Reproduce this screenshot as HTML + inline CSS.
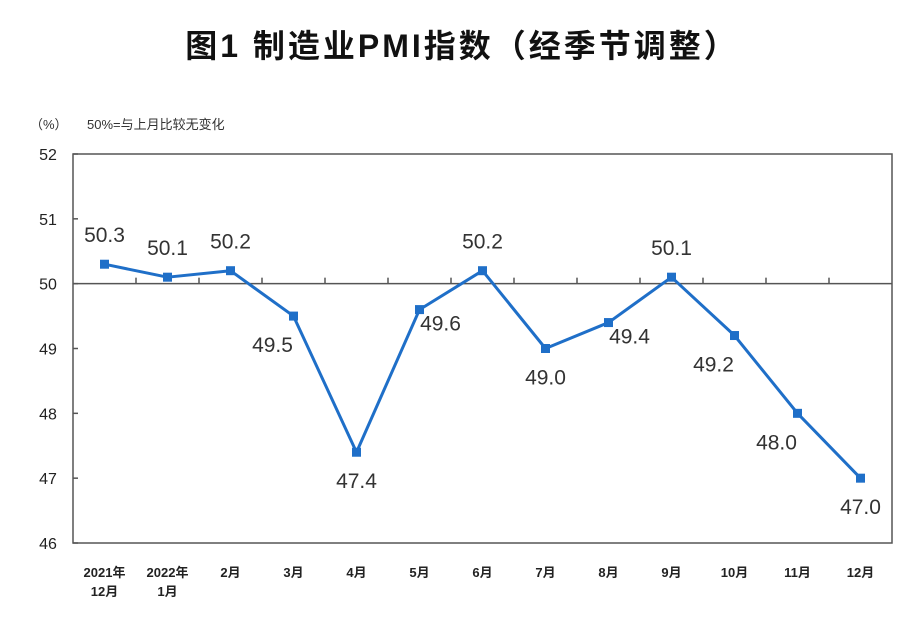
<!DOCTYPE html>
<html><head><meta charset="utf-8"><style>
body{margin:0;background:#fff}
svg{display:block}
text{font-family:"Liberation Sans","Noto Sans CJK SC",sans-serif}
</style></head><body>
<svg id="c" width="916" height="628">
<text x="462" y="57" text-anchor="middle" font-size="32" font-weight="bold" letter-spacing="3" fill="#111">图1 制造业PMI指数（经季节调整）</text>
<text x="30" y="129" font-size="13" fill="#333">（%）</text>
<text x="87" y="129" font-size="13" fill="#333">50%=与上月比较无变化</text>
<g id="axes"></g>
<g id="marks"></g>
</svg>
<script>
const categories=[["2021年","12月"],["2022年","1月"],["2月"],["3月"],["4月"],["5月"],["6月"],["7月"],["8月"],["9月"],["10月"],["11月"],["12月"]];
const values=[50.3,50.1,50.2,49.5,47.4,49.6,50.2,49.0,49.4,50.1,49.2,48.0,47.0];
const yTicks=[46,47,48,49,50,51,52];
const labelPos=["a","a","a","bl","b","br","a","b","br","a","bl","bl","b"];
const L=73,R=892,T=154,B=543,yMin=46,yMax=52;
const bw=(R-L)/categories.length;
const x=i=>L+bw*(i+0.5);
const y=v=>B-(v-yMin)/(yMax-yMin)*(B-T);
const NS="http://www.w3.org/2000/svg";
const ax=document.getElementById('axes'),mk=document.getElementById('marks');
function el(t,a,p){const e=document.createElementNS(NS,t);for(const k in a)e.setAttribute(k,a[k]);p.appendChild(e);return e;}
const frame=el('rect',{x:L,y:T,width:R-L,height:B-T,fill:'none',stroke:'#555','stroke-width':1.5},ax);


const base=el('line',{x1:L,x2:R,y1:y(50),y2:y(50),stroke:'#555','stroke-width':1.5},ax);


yTicks.forEach(v=>{
 const t=el('line',{x1:L,x2:L+5,y1:y(v),y2:y(v),stroke:'#555','stroke-width':1.5},ax);
 
 
 const tx=el('text',{x:L-25,y:y(v)+6,'text-anchor':'middle','font-size':16,fill:'#222','font-family':'Liberation Serif, serif'},ax);
 tx.textContent=v;
 
 
});
categories.forEach((c,i)=>{
 if(i>0){const t=el('line',{x1:L+bw*i,x2:L+bw*i,y1:y(50),y2:y(50)-6,stroke:'#555','stroke-width':1.5},ax);
 
 }
 c.forEach((s,j)=>{
  const tx=el('text',{x:x(i),y:577+j*19,'text-anchor':'middle','font-size':13,'font-weight':'bold',fill:'#222'},ax);
  tx.textContent=s;
  
  
 });
});
const line=el('polyline',{points:values.map((v,i)=>x(i)+','+y(v)).join(' '),fill:'none',stroke:'#1f6fc8','stroke-width':3,'stroke-linejoin':'round'},mk);


const off={a:[0,-22],b:[0,36],bl:[-21,36],br:[21,21]};
values.forEach((v,i)=>{
 const m=el('rect',{x:x(i)-4.5,y:y(v)-4.5,width:9,height:9,fill:'#1f6fc8'},mk);
 
 
 const o=off[labelPos[i]];
 const t=el('text',{x:x(i)+o[0],y:y(v)+o[1],'text-anchor':'middle','font-size':21,fill:'#333'},mk);
 t.textContent=v.toFixed(1);
 
 
});
</script>
</body></html>
